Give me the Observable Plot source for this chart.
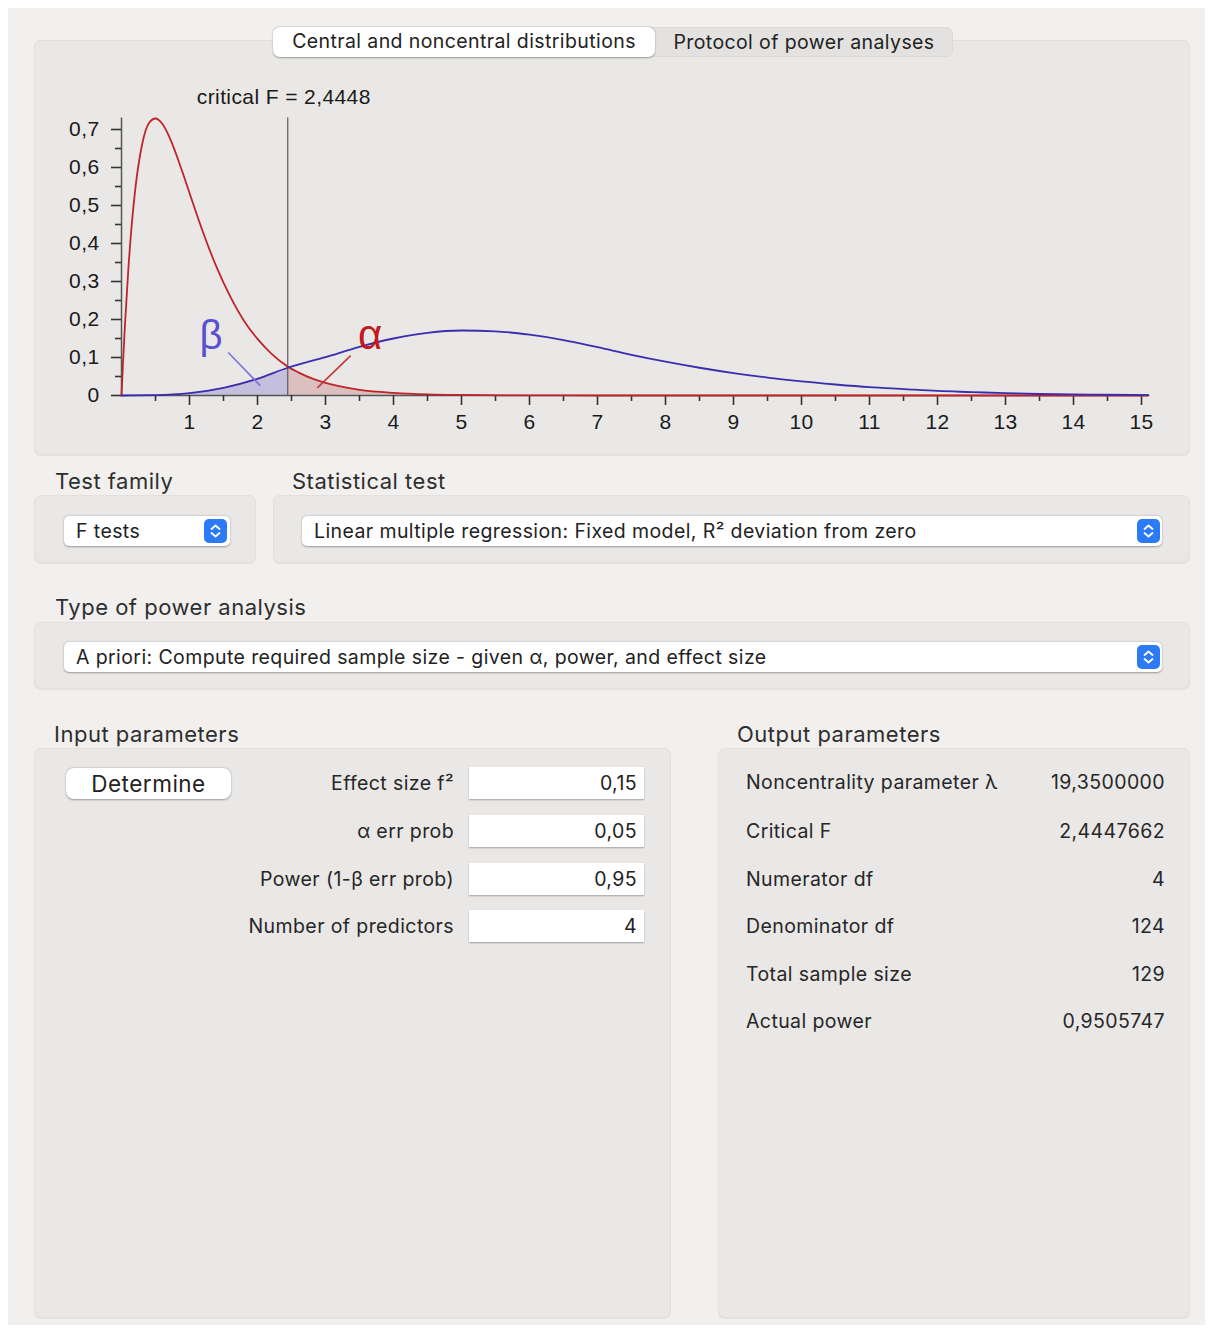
<!DOCTYPE html>
<html><head><meta charset="utf-8">
<script src="https://cdn.jsdelivr.net/npm/d3@7"></script>
<script src="https://cdn.jsdelivr.net/npm/@observablehq/plot@0.6"></script>
<style>
body{margin:0;background:#fff;font-family:Inter,"Noto Sans",sans-serif;color:#262626;width:1213px;height:1333px;position:relative;overflow:hidden;}
#win{position:absolute;left:8px;top:8px;width:1197px;height:1317px;background:#f1f0ee;}
.panel{position:absolute;background:#e9e8e6;border:1px solid #e1e0de;border-radius:7px;box-sizing:border-box;box-shadow:0 1px 1px rgba(0,0,0,0.06);}
.hdr{position:absolute;font-size:22px;letter-spacing:0.5px;color:#2e2e2e;white-space:nowrap;line-height:24px;transform:translateY(-50%);}
.sel{position:absolute;background:#fff;border-radius:5px;box-shadow:0 0.5px 2px rgba(0,0,0,0.35);box-sizing:border-box;font-size:19.5px;letter-spacing:0.4px;line-height:30px;height:30px;padding-left:12px;white-space:nowrap;color:#222;}
.step{position:absolute;top:3px;width:23px;height:24px;}
.tab{position:absolute;top:27px;height:30px;box-sizing:border-box;font-size:19.5px;letter-spacing:0.4px;line-height:29px;text-align:center;white-space:nowrap;color:#222;}
.lab{position:absolute;font-size:19.5px;letter-spacing:0.4px;white-space:nowrap;line-height:24px;transform:translateY(-50%);color:#262626;}
.field{position:absolute;left:469px;width:175px;height:32px;background:#fff;box-shadow:0 1px 1.5px rgba(0,0,0,0.3);box-sizing:border-box;text-align:right;padding-right:7px;font-size:19.5px;letter-spacing:0.4px;line-height:32px;color:#222;}
#chart{position:absolute;left:34px;top:60px;}
</style></head>
<body>
<div id="win"></div>
<div class="panel" style="left:34px;top:40px;width:1156px;height:415px"></div>
<div class="tab" style="left:273px;width:382px;background:#fff;border-radius:7px;box-shadow:0 0.5px 2px rgba(0,0,0,0.35);z-index:2">Central and noncentral distributions</div>
<div class="tab" style="left:640px;width:313px;background:#e3e2e0;border-radius:0 7px 7px 0;border:1px solid #dcdbd9;padding-left:15px">Protocol of power analyses</div>
<div id="chart"></div>

<div class="hdr" style="left:55px;top:481px">Test family</div>
<div class="hdr" style="left:292px;top:481px">Statistical test</div>
<div class="panel" style="left:34px;top:495px;width:222px;height:68px"></div>
<div class="panel" style="left:273px;top:495px;width:917px;height:68px"></div>
<div class="sel" style="left:64px;top:516px;width:166px">F tests<svg class="step" style="right:3px" viewBox="0 0 23 24"><rect width="23" height="24" rx="5" fill="#2a7bf5"/><path d="M7.5 10 L11.5 6.5 L15.5 10 M7.5 14 L11.5 17.5 L15.5 14" stroke="#fff" stroke-width="1.8" fill="none" stroke-linecap="round" stroke-linejoin="round"/></svg></div>
<div class="sel" style="left:302px;top:516px;width:860px">Linear multiple regression: Fixed model, R² deviation from zero<svg class="step" style="right:2px" viewBox="0 0 23 24"><rect width="23" height="24" rx="5" fill="#2a7bf5"/><path d="M7.5 10 L11.5 6.5 L15.5 10 M7.5 14 L11.5 17.5 L15.5 14" stroke="#fff" stroke-width="1.8" fill="none" stroke-linecap="round" stroke-linejoin="round"/></svg></div>

<div class="hdr" style="left:55px;top:607px">Type of power analysis</div>
<div class="panel" style="left:34px;top:622px;width:1156px;height:67px"></div>
<div class="sel" style="left:64px;top:642px;width:1098px">A priori: Compute required sample size - given α, power, and effect size<svg class="step" style="right:2px" viewBox="0 0 23 24"><rect width="23" height="24" rx="5" fill="#2a7bf5"/><path d="M7.5 10 L11.5 6.5 L15.5 10 M7.5 14 L11.5 17.5 L15.5 14" stroke="#fff" stroke-width="1.8" fill="none" stroke-linecap="round" stroke-linejoin="round"/></svg></div>

<div class="hdr" style="left:54px;top:734px">Input parameters</div>
<div class="hdr" style="left:737px;top:734px">Output parameters</div>
<div class="panel" style="left:34px;top:748px;width:637px;height:570px"></div>
<div class="panel" style="left:718px;top:748px;width:472px;height:570px"></div>
<div style="position:absolute;left:66px;top:768px;width:165px;height:31px;background:#fff;border-radius:8px;box-shadow:0 0.5px 2px rgba(0,0,0,0.35);font-size:22.5px;letter-spacing:0.5px;line-height:31px;text-align:center;color:#222">Determine</div>
<div id="inputs"></div>
<div id="outputs"></div>

<script>
// ---- chart data ----
const centralF = [0, 0.02, 0.05, 0.1, 0.15, 0.2, 0.3, 0.4, 0.5, 0.6, 0.7, 0.8, 0.9, 1.0, 1.2, 1.4, 1.6, 1.8, 2.0, 2.2, 2.4448, 2.6, 2.8, 3.0, 3.5, 4.0, 4.5, 5.0, 6.0, 7.0, 8.0, 10.0, 12.0, 14.0, 15.1];
const centralDensity = [0, 0.078, 0.183, 0.331, 0.448, 0.539, 0.658, 0.716, 0.729, 0.715, 0.682, 0.637, 0.586, 0.533, 0.429, 0.337, 0.260, 0.197, 0.149, 0.111, 0.076, 0.061, 0.045, 0.033, 0.015, 0.007, 0.003, 0.0014, 0.0003, 0, 0, 0, 0, 0, 0];
const noncentralF = [0, 0.5, 1.0, 1.5, 2.0, 2.4448, 3.0, 3.5, 4.0, 4.5, 5.0, 5.5, 6.0, 6.5, 7.0, 7.5, 8.0, 8.5, 9.0, 9.5, 10.0, 10.5, 11.0, 11.5, 12.0, 12.5, 13.0, 13.5, 14.0, 14.5, 15.1];
const noncentralDensity = [0, 0.0008, 0.006, 0.020, 0.044, 0.073, 0.101, 0.128, 0.150, 0.165, 0.171, 0.169, 0.160, 0.146, 0.127, 0.107, 0.089, 0.073, 0.059, 0.047, 0.037, 0.029, 0.022, 0.017, 0.012, 0.009, 0.006, 0.004, 0.003, 0.002, 0.001];
const criticalF = 2.4448;
const xTicks = [1, 2, 3, 4, 5, 6, 7, 8, 9, 10, 11, 12, 13, 14, 15];
const xMinorTicks = [0.5, 1.5, 2.5, 3.5, 4.5, 5.5, 6.5, 7.5, 8.5, 9.5, 10.5, 11.5, 12.5, 13.5, 14.5];
const yTicks = [0, 0.1, 0.2, 0.3, 0.4, 0.5, 0.6, 0.7];
const yMinorTicks = [0.05, 0.15, 0.25, 0.35, 0.45, 0.55, 0.65];
// annotation anchors (data units)
const betaLabel = [{x: 1.32, y: 0.155, t: "β"}];
const alphaLabel = [{x: 3.66, y: 0.158, t: "α"}];
const betaPointer = [{x1: 1.57, y1: 0.113, x2: 2.04, y2: 0.026}];
const alphaPointer = [{x1: 3.37, y1: 0.105, x2: 2.88, y2: 0.020}];

// ---- UI data ----
const inputLabels = ["Effect size f²", "α err prob", "Power (1-β err prob)", "Number of predictors"];
const inputValues = ["0,15", "0,05", "0,95", "4"];
const outputLabels = ["Noncentrality parameter λ", "Critical F", "Numerator df", "Denominator df", "Total sample size", "Actual power"];
const outputValues = ["19,3500000", "2,4447662", "4", "124", "129", "0,9505747"];

const central = centralF.map((f, i) => ({f, d: centralDensity[i]}));
const noncentral = noncentralF.map((f, i) => ({f, d: noncentralDensity[i]}));
const comma = v => v === 0 ? "0" : String(v).replace(".", ",");
const yMax = 0.73;

const chart = Plot.plot({
  width: 1156,
  height: 390,
  marginLeft: 87,
  marginRight: 42.2,
  marginTop: 57.6,
  marginBottom: 55,
  x: {domain: [0, 15.1]},
  y: {domain: [0, yMax]},
  style: {fontFamily: "'Liberation Sans', Arial, sans-serif", fontSize: "21px", letterSpacing: "0.4px", background: "transparent", color: "#222", overflow: "visible"},
  marks: [
    Plot.areaY(noncentral.filter(p => p.f <= criticalF), {x: "f", y: "d", fill: "#c4bfdd", curve: "monotone-x"}),
    Plot.areaY(central.filter(p => p.f >= criticalF), {x: "f", y: "d", fill: "#dcbfbf", curve: "monotone-x"}),
    Plot.ruleY([0], {x1: 0, x2: 15.1, stroke: "#555", strokeWidth: 1.5}),
    Plot.ruleX([0], {y1: 0, y2: yMax, stroke: "#555", strokeWidth: 1.5}),
    Plot.ruleX([criticalF], {y1: 0, y2: yMax, stroke: "#5a5a5a", strokeWidth: 1.2}),
    Plot.axisX({ticks: xTicks, tickSize: 10, tickPadding: 9, tickFormat: d => String(d), stroke: "#333", strokeWidth: 1.6, fill: "#1a1a1a"}),
    Plot.axisX({ticks: xMinorTicks, tickSize: 6, tickFormat: () => "", stroke: "#333", strokeWidth: 1.6}),
    Plot.axisY({ticks: yTicks, tickSize: 10, tickPadding: 12, tickFormat: comma, stroke: "#333", strokeWidth: 1.6, fill: "#1a1a1a"}),
    Plot.axisY({ticks: yMinorTicks, tickSize: 6, tickFormat: () => "", stroke: "#333", strokeWidth: 1.6}),
    Plot.line(central, {x: "f", y: "d", stroke: "#c0242b", strokeWidth: 1.8, curve: "monotone-x"}),
    Plot.line(noncentral, {x: "f", y: "d", stroke: "#3a2eae", strokeWidth: 1.8, curve: "monotone-x"}),
    Plot.link(betaPointer, {x1: "x1", y1: "y1", x2: "x2", y2: "y2", stroke: "#7c72d8", strokeWidth: 1.6}),
    Plot.link(alphaPointer, {x1: "x1", y1: "y1", x2: "x2", y2: "y2", stroke: "#c23a3a", strokeWidth: 1.6}),
    Plot.text(betaLabel, {x: "x", y: "y", text: "t", fill: "#5a4fcf", fontSize: 40, lineAnchor: "middle"}),
    Plot.text(alphaLabel, {x: "x", y: "y", text: "t", fill: "#c0191f", fontSize: 42, lineAnchor: "middle"}),
    Plot.text([criticalF], {x: d => d, y: () => yMax, text: d => `critical F = ${d.toFixed(4).replace(".", ",")}`, dy: -21, dx: -4, fontSize: 21, fill: "#1a1a1a", lineAnchor: "middle"})
  ]
});
document.getElementById("chart").appendChild(chart);

// input parameter rows
const fieldTops = [767, 815, 863, 910];
const inp = document.getElementById("inputs");
inputLabels.forEach((l, i) => {
  const lab = document.createElement("div");
  lab.className = "lab";
  lab.style.right = (1213 - 454) + "px";
  lab.style.top = (fieldTops[i] + 16) + "px";
  lab.textContent = l;
  inp.appendChild(lab);
  const f = document.createElement("div");
  f.className = "field";
  f.style.top = fieldTops[i] + "px";
  f.textContent = inputValues[i];
  inp.appendChild(f);
});
// output parameter rows
const outCenters = [782, 831, 879, 926, 974, 1021];
const out = document.getElementById("outputs");
outputLabels.forEach((l, i) => {
  const lab = document.createElement("div");
  lab.className = "lab";
  lab.style.left = "746px";
  lab.style.top = outCenters[i] + "px";
  lab.textContent = l;
  out.appendChild(lab);
  const v = document.createElement("div");
  v.className = "lab";
  v.style.right = (1213 - 1165) + "px";
  v.style.top = outCenters[i] + "px";
  v.textContent = outputValues[i];
  out.appendChild(v);
});
</script>
</body></html>
